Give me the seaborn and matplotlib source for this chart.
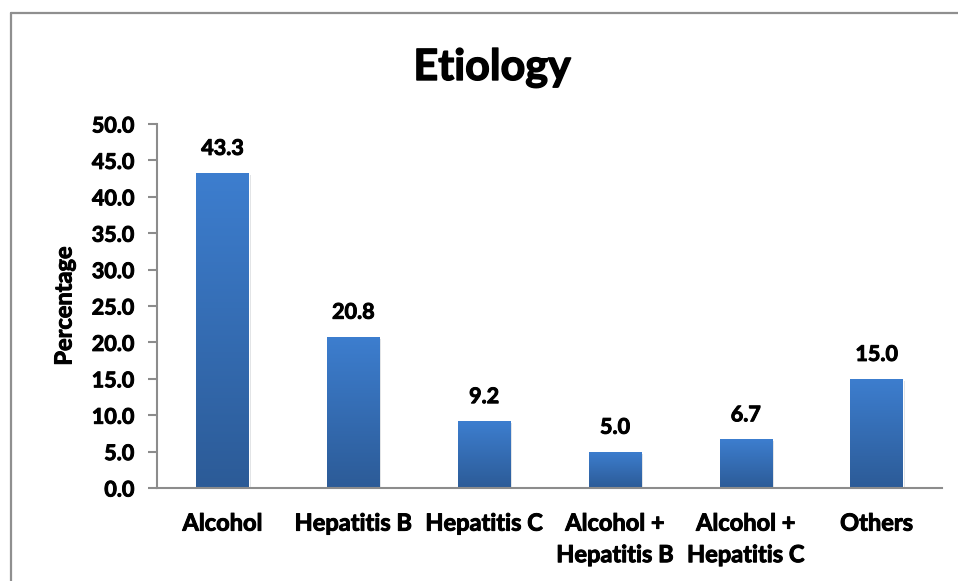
import numpy as np
import pandas as pd
import matplotlib
matplotlib.use("Agg")
import matplotlib.pyplot as plt
import matplotlib.patheffects as pe
from matplotlib.colors import LinearSegmentedColormap
from matplotlib.lines import Line2D
import seaborn as sns

categories = ["Alcohol", "Hepatitis B", "Hepatitis C",
              "Alcohol +\nHepatitis B", "Alcohol +\nHepatitis C", "Others"]
percentages = [43.3, 20.8, 9.2, 5.0, 6.7, 15.0]
y_ticks = [0.0, 5.0, 10.0, 15.0, 20.0, 25.0, 30.0, 35.0, 40.0, 45.0, 50.0]

df = pd.DataFrame({"Etiology": categories, "Percentage": percentages})

sns.set_theme(style="white")
plt.rcParams["font.family"] = ["Lato", "DejaVu Sans"]
plt.rcParams["font.weight"] = "bold"

W, H = 958, 581
fig = plt.figure(figsize=(W / 100, H / 100), dpi=100)
fig.patch.set_facecolor("white")

left, right, top, bottom = 157, 942, 124, 488
ax = fig.add_axes([left / W, 1 - bottom / H, (right - left) / W, (bottom - top) / H])

sns.barplot(data=df, x="Etiology", y="Percentage", color="#3474c4",
            width=0.4, ax=ax, saturation=1)

# vertical blue gradient inside each bar
grad_cmap = LinearSegmentedColormap.from_list("bar_grad", ["#2c5b97", "#3d7ecf"])
grad = np.linspace(0, 1, 256).reshape(-1, 1)
for patch in ax.patches:
    x0, y0 = patch.get_x(), patch.get_y()
    w, h = patch.get_width(), patch.get_height()
    patch.set_path_effects([pe.SimplePatchShadow(offset=(1.5, -1.5), alpha=0.15),
                            pe.Normal()])
    img = ax.imshow(grad, extent=[x0, x0 + w, y0, y0 + h], origin="lower",
                    aspect="auto", cmap=grad_cmap, zorder=patch.get_zorder() + 0.1)
    img.set_clip_path(patch)

ax.set_xlim(-0.5, len(categories) - 0.5)
ax.set_ylim(0, 50)
ax.set_yticks(y_ticks)
ax.set_yticklabels([f"{v:.1f}" for v in y_ticks])

# slightly heavier strokes for all text
heavy = [pe.withStroke(linewidth=0.7, foreground="black")]

value_labels = ax.bar_label(ax.containers[0], labels=[f"{v:.1f}" for v in percentages],
                            padding=10, fontsize=15.5, fontweight="bold", color="black")
for t in value_labels:
    t.set_path_effects(heavy)

for side in ["top", "right"]:
    ax.spines[side].set_visible(False)
for side in ["left", "bottom"]:
    ax.spines[side].set_color("#8c8c8c")
    ax.spines[side].set_linewidth(1.5)

ax.tick_params(axis="y", direction="out", length=6.5, width=1.5, color="#8c8c8c",
               pad=10, labelsize=15.5, left=True)
ax.tick_params(axis="x", length=0, pad=17, labelsize=17)
for lbl in ax.get_xticklabels() + ax.get_yticklabels():
    lbl.set_fontweight("bold")
    lbl.set_color("black")
    lbl.set_path_effects(heavy)
for lbl in ax.get_xticklabels():
    lbl.set_linespacing(1.45)

ax.set_xlabel("")
ax.set_ylabel("")
fig.text(64 / W, 1 - 306 / H, "Percentage", rotation=90, ha="center", va="center",
         fontsize=17, fontweight="bold", color="black", path_effects=heavy)

fig.text(492 / W, 1 - 80 / H, "Etiology", ha="center", va="baseline",
         fontsize=31, fontweight="bold", color="black",
         path_effects=[pe.withStroke(linewidth=1.0, foreground="black")])

# chart-area frame (top and left edges)
frame_kw = dict(color="#8f8f8f", linewidth=1.6, transform=fig.transFigure)
fig.add_artist(Line2D([10.5 / W, 1.0], [1 - 12.5 / H, 1 - 12.5 / H], **frame_kw))
fig.add_artist(Line2D([10.5 / W, 10.5 / W], [0.0, 1 - 12.5 / H], **frame_kw))

fig.savefig("out.png", dpi=100, facecolor="white")
